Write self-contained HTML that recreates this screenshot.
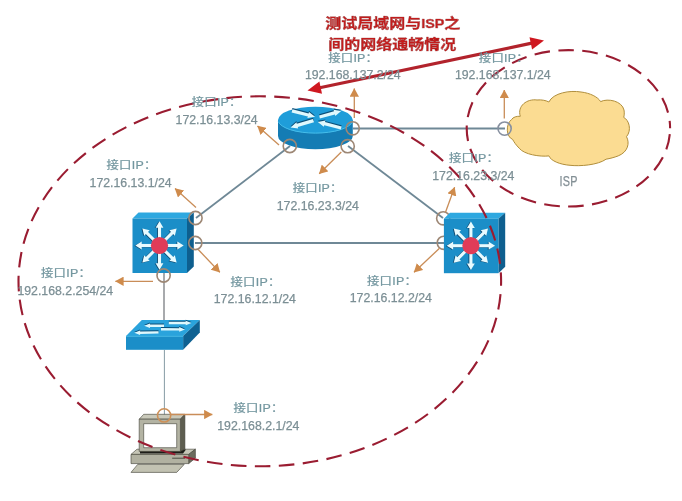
<!DOCTYPE html>
<html lang="zh">
<head>
<meta charset="utf-8">
<title>测试局域网与ISP之间的网络通畅情况</title>
<style>
html,body{margin:0;padding:0;background:#fff;}
body{width:682px;height:501px;overflow:hidden;position:relative;}
svg{position:absolute;left:0;top:0;display:block;filter:blur(0.45px);}
.lb{font-family:"Liberation Sans","Noto Sans CJK SC",sans-serif;font-size:12.4px;fill:#73969f;stroke:#73969f;stroke-width:0.25px;letter-spacing:0.25px;}
.ip{font-family:"Liberation Sans","Noto Sans CJK SC",sans-serif;font-size:12.3px;fill:#7c8f95;stroke:#7c8f95;stroke-width:0.25px;}
.tt{font-family:"Liberation Sans","Noto Sans CJK SC",sans-serif;font-size:16px;font-weight:bold;fill:#c71d1d;}
</style>
</head>
<body>
<svg width="682" height="501" viewBox="0 0 682 501">
<defs>
  <marker id="oa" viewBox="0 0 8.5 9.4" refX="8.2" refY="4.7" markerWidth="8.5" markerHeight="9.4" markerUnits="userSpaceOnUse" orient="auto">
    <path d="M0,0 L8.5,4.7 L0,9.4 Z" fill="#cf8b4c"/>
  </marker>
  <filter id="halo" x="-5%" y="-20%" width="110%" height="140%">
    <feMorphology in="SourceAlpha" operator="dilate" radius="1.3" result="d"/>
    <feGaussianBlur in="d" stdDeviation="0.6" result="b"/>
    <feFlood flood-color="#ffffff" flood-opacity="0.9"/>
    <feComposite in2="b" operator="in" result="h"/>
    <feMerge><feMergeNode in="h"/><feMergeNode in="SourceGraphic"/></feMerge>
  </filter>
  <g id="l3">
    <!-- top face -->
    <polygon points="0,6 6,0 61.3,0 54.5,6" fill="#2ea8e0"/>
    <!-- right face -->
    <polygon points="54.5,6 61.3,0 61.3,54 54.5,60.5" fill="#0e5f8f"/>
    <!-- front face -->
    <rect x="0" y="6" width="54.5" height="54.5" fill="#1b8ec8"/>
    <g stroke="#0c3f63" stroke-width="3.1" fill="#0c3f63" transform="translate(-0.9,0.3)" opacity="0.85">
    <g id="l3s">
      <g id="l3a"><line x1="27" y1="33" x2="27" y2="14"/><polygon points="27,8.8 30.9,15.2 23.1,15.2" stroke="none"/></g>
      <use href="#l3a" transform="rotate(45 27 33)"/>
      <use href="#l3a" transform="rotate(90 27 33)"/>
      <use href="#l3a" transform="rotate(135 27 33)"/>
      <use href="#l3a" transform="rotate(180 27 33)"/>
      <use href="#l3a" transform="rotate(225 27 33)"/>
      <use href="#l3a" transform="rotate(270 27 33)"/>
      <use href="#l3a" transform="rotate(315 27 33)"/>
    </g>
    </g>
    <g stroke="#e8fbff" stroke-width="3.1" fill="#e8fbff"><use href="#l3s"/></g>
    <circle cx="27" cy="33" r="8.6" fill="#e03c58"/>
  </g>
</defs>


<!-- links -->
<g stroke="#6f8896" stroke-width="1.8" fill="none">
  <line x1="196" y1="218" x2="290" y2="146"/>
  <line x1="348" y1="146" x2="443" y2="218"/>
  <line x1="195" y1="243" x2="444" y2="243"/>
  <line x1="353" y1="128.5" x2="505" y2="128.5"/>
</g>
<g stroke="#8b8e92" stroke-width="1.5" fill="none">
  <line x1="164" y1="272" x2="164" y2="330"/>
  <line x1="164.4" y1="350" x2="164.4" y2="415.5" stroke="#78909a" stroke-width="0.9"/>
</g>

<!-- cloud -->
<path id="cloud" d="M512.6,139.4 C506,137 505.5,124 511.5,119.6 C513,117 517,116 520.3,116.3 C517,106 527,98.5 537,100 C542,99.5 546,100.5 548.9,102 C553,93 570,90 581,92 C590,93 598,97 600.6,101.6 C608,98 622,101 624,110 C624.5,113 624.3,115.5 623.7,117.4 C629,120 632,130 626.5,136.7 C630,143 628,152 618.2,155.9 C614,157.5 610,158.5 606.1,159.2 C598,165 580,166.5 570,165.3 C560,164.5 551,161 548.9,155.9 C540,157 524,154.5 519.2,148.2 C516,145 514,142 512.6,139.4 Z" fill="#fbdc92" stroke="#b08e3c" stroke-width="1"/>
<text x="559.6" y="185.9" class="lb" style="font-size:13.8px;fill:#838f95;stroke:#838f95" textLength="18" lengthAdjust="spacingAndGlyphs">ISP</text>

<!-- router -->
<g>
  <path d="M278,120 L278,135.9 A37.4,13.3 0 0 0 352.8,135.9 L352.8,120 Z" fill="#147cb4"/>
  <ellipse cx="315.4" cy="120" rx="37.4" ry="13.3" fill="#1f9dd9"/>
  <path d="M278.3,121.5 A37.4,13.3 0 0 0 352.5,121.5" fill="none" stroke="#46bdea" stroke-width="1"/>
  <g fill="#0b4f78">
    <polygon points="291.6,111.2 307.8,115.4 307.4,116.9 315.0,115.6 309.0,110.7 308.6,112.2 292.4,108.0"/>
    <polygon points="319.9,117.4 334.9,113.3 335.3,114.7 341.2,109.8 333.6,108.6 334.0,110.1 319.1,114.2"/>
    <polygon points="313.0,117.8 296.8,122.6 296.4,121.1 290.6,126.2 298.2,127.3 297.8,125.8 314.0,121.0"/>
    <polygon points="341.6,125.2 325.0,120.9 325.4,119.4 317.8,120.8 323.8,125.6 324.2,124.1 340.8,128.4"/>
  </g>
  <g fill="#dff8fd">
    <polygon points="291.6,112.4 307.8,116.6 307.4,118.1 315.0,116.8 309.0,111.9 308.6,113.4 292.4,109.2"/>
    <polygon points="319.9,118.6 334.9,114.5 335.3,115.9 341.2,111.0 333.6,109.8 334.0,111.3 319.1,115.4"/>
    <polygon points="313.0,119.0 296.8,123.8 296.4,122.3 290.6,127.4 298.2,128.5 297.8,127.0 314.0,122.2"/>
    <polygon points="341.6,126.4 325.0,122.1 325.4,120.6 317.8,122.0 323.8,126.8 324.2,125.3 340.8,129.6"/>
  </g>
</g>

<!-- L3 switches -->
<use href="#l3" x="132.5" y="212.5"/>
<g stroke="#9d8775" stroke-width="1.6" fill="none"><circle cx="443.2" cy="218.3" r="6.6"/><circle cx="443.8" cy="242.8" r="6.6"/></g>
<use href="#l3" x="443.9" y="212.7"/>

<!-- L2 switch -->
<g>
  <polygon points="126,336.1 141.8,320 199.8,320 183.1,336.1" fill="#2aa3dc"/>
  <polygon points="183.1,336.1 199.8,320 199.8,332.4 183.1,349.8" fill="#0e6192"/>
  <rect x="126" y="336.1" width="57.1" height="13.7" fill="#1b8ec8"/>
  <line x1="126" y1="336.3" x2="183.1" y2="336.3" stroke="#49bdea" stroke-width="0.8"/>
  <g fill="#0b4f78">
    <polygon points="168.8,323.2 185.7,323.2 185.7,324.3 191.5,322.0 185.7,319.7 185.7,320.8 168.8,320.8"/>
    <polygon points="164.0,323.6 150.0,323.6 150.0,322.5 144.2,324.8 150.0,327.1 150.0,326.0 164.0,326.0"/>
    <polygon points="161.0,329.4 179.2,329.6 179.2,330.7 185.0,328.4 179.2,326.1 179.2,327.2 161.0,327.0"/>
    <polygon points="158.5,330.2 140.1,330.5 140.1,329.4 134.3,331.8 140.1,334.0 140.1,332.9 158.5,332.6"/>
  </g>
  <g fill="#dff8fd">
    <polygon points="168.8,324.2 185.7,324.2 185.7,325.3 191.5,323.0 185.7,320.7 185.7,321.8 168.8,321.8"/>
    <polygon points="164.0,324.6 150.0,324.6 150.0,323.5 144.2,325.8 150.0,328.1 150.0,327.0 164.0,327.0"/>
    <polygon points="161.0,330.4 179.2,330.6 179.2,331.7 185.0,329.4 179.2,327.1 179.2,328.2 161.0,328.0"/>
    <polygon points="158.5,331.2 140.1,331.5 140.1,330.4 134.3,332.8 140.1,335.0 140.1,333.9 158.5,333.6"/>
  </g>
</g>

<!-- PC -->
<g stroke="#3e3e34" stroke-width="0.6" stroke-linejoin="round">
  <polygon points="131,454.4 137,449.2 195.4,449.2 188.7,454.4" fill="#c6c6b7"/>
  <polygon points="188.7,454.4 195.4,449.2 195.4,458.2 188.7,463.6" fill="#6c6c5e"/>
  <rect x="131" y="454.4" width="57.7" height="9.2" fill="#b1b1a1"/>
  <line x1="172.2" y1="458.2" x2="185" y2="458.2" stroke="#4a4a40" stroke-width="1"/>
  <polygon points="137.7,464.4 184.2,464.4 176.7,472.4 131,472.4" fill="#c2c2b2"/>
  <polygon points="140,451 186,449.6 183,453.4 140,453.4" fill="#1d1d18" stroke="none"/>
  <polygon points="139.2,419.2 143.7,414.3 184.9,414.3 180.4,419.2" fill="#c9c9ba"/>
  <polygon points="180.4,419.2 184.9,414.3 184.9,449.2 180.4,451.4" fill="#5e5e50"/>
  <rect x="139.2" y="419.2" width="41.2" height="32.2" fill="#b3b3a3"/>
  <rect x="143.7" y="423.7" width="33" height="24" fill="#ffffff"/>
</g>

<!-- orange arrows -->
<g stroke="#c98d58" stroke-width="1.3" fill="none" marker-end="url(#oa)">
  <line x1="279" y1="145" x2="257.5" y2="126"/>
  <line x1="196" y1="207.5" x2="175" y2="188.5"/>
  <line x1="354.3" y1="118" x2="354.3" y2="88.5"/>
  <line x1="504.3" y1="118.5" x2="504.3" y2="90"/>
  <line x1="341.3" y1="152" x2="319.2" y2="173.7"/>
  <line x1="445.5" y1="212.3" x2="454.6" y2="187.2"/>
  <line x1="439.5" y1="248.3" x2="414" y2="272.2"/>
  <line x1="198.2" y1="249.5" x2="219.8" y2="272.3"/>
  <line x1="153" y1="281.3" x2="115.4" y2="281.3"/>
  <line x1="171" y1="414.5" x2="212.3" y2="414.5"/>
</g>

<!-- port circles -->
<g stroke="#9d8775" stroke-width="1.6" fill="none">
  <circle cx="289.8" cy="146" r="6.6"/>
  <circle cx="347.7" cy="146.2" r="6.6"/>
  <circle cx="352.7" cy="128.3" r="6.6"/>
  <circle cx="504.6" cy="128.6" r="6.6" stroke="#8790a0"/>
  <circle cx="195.5" cy="218" r="6.6"/>
  <circle cx="195.3" cy="243" r="6.6"/>
  <circle cx="163.6" cy="275.5" r="6.6"/>
  <circle cx="164.1" cy="415.4" r="6.6" stroke="#cd9058"/>
</g>

<!-- dashed ellipses -->
<ellipse cx="259.8" cy="281.3" rx="241.3" ry="185" fill="none" stroke="#9a1c31" stroke-width="2.1" stroke-dasharray="15.65 8.4" stroke-dashoffset="11.2"/>
<ellipse cx="568.4" cy="128.3" rx="101.7" ry="78.2" fill="none" stroke="#9a1c31" stroke-width="2.1" stroke-dasharray="15.65 8.4" stroke-dashoffset="18"/>

<!-- red double arrow -->
<line x1="319.7" y1="87.8" x2="531.8" y2="43.1" stroke="#b2232c" stroke-width="3.2"/>
<polygon points="307.5,90.4 322.0,93.7 319.4,81.5" fill="#cf1820"/>
<polygon points="544.0,40.5 532.1,49.4 529.5,37.2" fill="#cf1820"/>

<!-- title -->
<g class="tt" text-anchor="middle" stroke="#b01818" stroke-width="0.7" stroke-linejoin="round" filter="url(#halo)">
  <text transform="translate(392.8,28.1) scale(1,0.87)">测试局域网与<tspan font-size="14.3">ISP</tspan>之</text>
  <text transform="translate(392.3,49) scale(1,0.87)">间的网络通畅情况</text>
</g>

<!-- labels -->
<g text-anchor="middle">
  <text class="lb" transform="translate(216.7,106) scale(1,0.9)">接口IP：</text><text class="ip" x="216.6" y="124">172.16.13.3/24</text>
  <text class="lb" transform="translate(131.5,169) scale(1,0.9)">接口IP：</text><text class="ip" x="130.6" y="187">172.16.13.1/24</text>
  <text class="lb" transform="translate(353.2,62) scale(1,0.9)">接口IP：</text><text class="ip" x="352.8" y="79">192.168.137.2/24</text>
  <text class="lb" transform="translate(503.8,62) scale(1,0.9)">接口IP：</text><text class="ip" x="502.8" y="79">192.168.137.1/24</text>
  <text class="lb" transform="translate(317.7,192) scale(1,0.9)">接口IP：</text><text class="ip" x="317.8" y="210">172.16.23.3/24</text>
  <text class="lb" transform="translate(474.0,162) scale(1,0.9)">接口IP：</text><text class="ip" x="473.3" y="180">172.16.23.3/24</text>
  <text class="lb" transform="translate(66.0,277) scale(1,0.9)">接口IP：</text><text class="ip" x="65.3" y="295">192.168.2.254/24</text>
  <text class="lb" transform="translate(255.5,286) scale(1,0.9)">接口IP：</text><text class="ip" x="254.8" y="303">172.16.12.1/24</text>
  <text class="lb" transform="translate(392.0,285) scale(1,0.9)">接口IP：</text><text class="ip" x="390.8" y="302">172.16.12.2/24</text>
  <text class="lb" transform="translate(258.5,412) scale(1,0.9)">接口IP：</text><text class="ip" x="258.3" y="430">192.168.2.1/24</text>
</g>
</svg>
</body>
</html>
